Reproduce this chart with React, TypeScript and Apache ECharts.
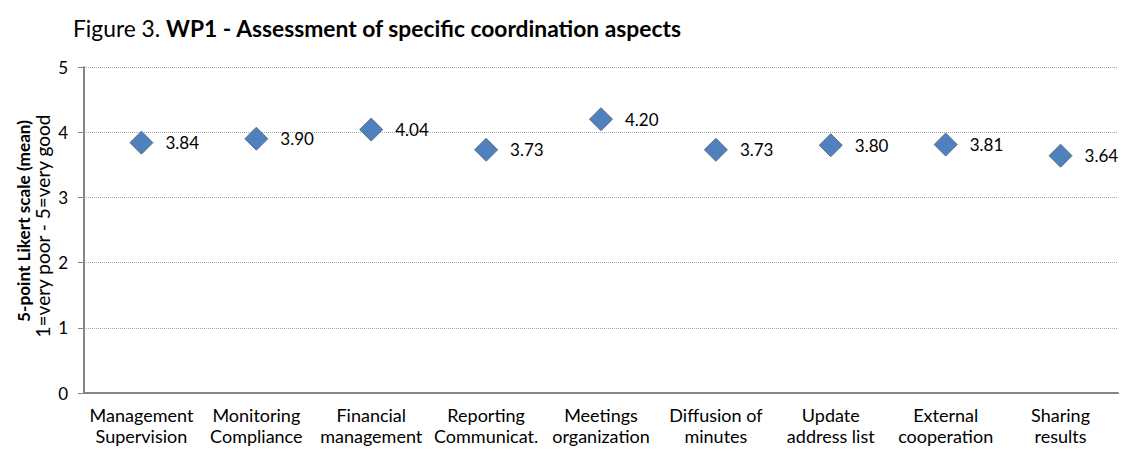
import React, { useEffect, useRef } from "react";
import * as echarts from "echarts";

const categories = [
  "Management\nSupervision",
  "Monitoring\nCompliance",
  "Financial\nmanagement",
  "Reporting\nCommunicat.",
  "Meetings\norganization",
  "Diffusion of\nminutes",
  "Update\naddress list",
  "External\ncooperation",
  "Sharing\nresults",
];
const values = [3.84, 3.9, 4.04, 3.73, 4.2, 3.73, 3.8, 3.81, 3.64];
const yTicks = { min: 0, max: 5, interval: 1 };

const FONT = "Lato, 'Open Sans', sans-serif";

export default function App() {
  const ref = useRef<HTMLDivElement>(null);
  useEffect(() => {
    if (!ref.current) return;
    const chart = echarts.init(ref.current, null, { renderer: "svg" });
    chart.setOption({
      animation: false,
      backgroundColor: "#ffffff",
      textStyle: { fontFamily: FONT },
      grid: { left: 84, right: 7, top: 67, bottom: 61, containLabel: false },
      graphic: [
        {
          type: "text",
          left: 73,
          top: 16,
          style: {
            text: "{n|Figure 3. }{b|WP1 - Assessment of specific coordination aspects}",
            rich: {
              n: { fontFamily: FONT, fontSize: 22.8, fill: "#000" },
              b: { fontFamily: FONT, fontSize: 22.8, fontWeight: "bold", fill: "#000" },
            },
          },
        },
        {
          type: "text",
          x: 23,
          y: 221,
          rotation: Math.PI / 2,
          style: {
            text: "5-point Likert scale (mean)",
            fontFamily: FONT,
            fontSize: 17.2,
            fontWeight: "bold",
            fill: "#000",
            align: "center",
            verticalAlign: "middle",
          },
        },
        {
          type: "text",
          x: 42,
          y: 226,
          rotation: Math.PI / 2,
          style: {
            text: "1=very poor - 5=very good",
            fontFamily: FONT,
            fontSize: 19,
            fill: "#000",
            align: "center",
            verticalAlign: "middle",
          },
        },
      ],
      xAxis: {
        type: "category",
        data: categories,
        boundaryGap: true,
        axisLine: { show: true, lineStyle: { color: "#868686", width: 2 } },
        axisTick: { show: false },
        axisLabel: {
          interval: 0,
          color: "#000",
          fontFamily: FONT,
          fontSize: 18,
          lineHeight: 21,
          margin: 11,
        },
        splitLine: { show: false },
      },
      yAxis: {
        type: "value",
        min: yTicks.min,
        max: yTicks.max,
        interval: yTicks.interval,
        axisLine: { show: true, lineStyle: { color: "#868686", width: 2 } },
        axisTick: { show: true, length: 6, lineStyle: { color: "#868686", width: 1 } },
        axisLabel: { color: "#000", fontFamily: FONT, fontSize: 17, margin: 16 },
        splitLine: { show: true, lineStyle: { color: "#a6a6a6", type: [1, 1], width: 1 } },
      },
      series: [
        {
          type: "scatter",
          data: values,
          symbol: "diamond",
          symbolSize: [23, 23],
          itemStyle: { color: "#4F81BD", opacity: 1, borderColor: "#5a6f86", borderWidth: 1 },
          label: {
            show: true,
            position: "right",
            distance: 12,
            color: "#000",
            fontFamily: FONT,
            fontSize: 17,
            formatter: (p: any) => p.value.toFixed(2),
          },
        },
      ],
    });
    return () => chart.dispose();
  }, []);
  return <div ref={ref} style={{ width: 1125, height: 454, position: "absolute", left: 0, top: 0 }} />;
}
